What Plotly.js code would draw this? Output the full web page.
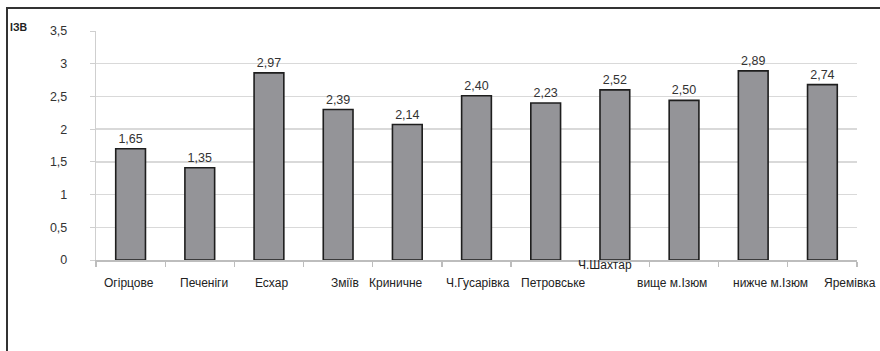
<!DOCTYPE html>
<html>
<head>
<meta charset="utf-8">
<script src="https://cdn.plot.ly/plotly-3.0.1.min.js"></script>
<style>
  html, body { margin: 0; padding: 0; background: #fff; }
  #wrap { position: relative; width: 880px; height: 351px; overflow: hidden; }
  #chart { position: absolute; left: 0; top: 0; width: 880px; height: 351px; }
  #frame { position: absolute; left: 6px; top: 7px; width: 900px; height: 400px;
           border-left: 2px solid #333; border-top: 2px solid #333; pointer-events: none; }
</style>
</head>
<body>
<div id="wrap">
  <div id="chart"></div>
  <div id="frame"></div>
</div>
<script>
// ---- data ----
const categories = ["Огірцове", "Печеніги", "Есхар", "Зміїв", "Криничне", "Ч.Гусарівка",
                    "Петровське", "Ч.Шахтар", "вище м.Ізюм", "нижче м.Ізюм", "Яремівка"];
const barValues = [1.70, 1.41, 2.86, 2.30, 2.07, 2.51, 2.40, 2.60, 2.44, 2.89, 2.68];
const valueLabels = ["1,65", "1,35", "2,97", "2,39", "2,14", "2,40", "2,23", "2,52", "2,50", "2,89", "2,74"];
const yTickVals = [0, 0.5, 1, 1.5, 2, 2.5, 3, 3.5];
const yTickText = ["0", "0,5", "1", "1,5", "2", "2,5", "3", "3,5"];
const yAxisLabel = "ІЗВ";

// ---- label placement (styling) ----
const labelDx = [-2, 4, 3, 7, -11, 1, 8, -10, -12, 17, 28];
const labelDy = [-23, -23, -23, -23, -23, -23, -23, -5, -23, -23, -23];

const font = "Liberation Sans, Arial, sans-serif";
const L = 96, R = 23, T = 31, B = 91, W = 880, H = 351;

const trace = {
  type: "bar",
  x: categories,
  y: barValues,
  text: valueLabels,
  textposition: "outside",
  cliponaxis: false,
  textfont: { family: font, size: 12.5, color: "#333" },
  marker: { color: "#949498", line: { color: "#1e1e1e", width: 1.6 } },
  hoverinfo: "none"
};

const annotations = categories.map((c, i) => ({
  x: c, xref: "x", y: 0, yref: "y",
  text: c, showarrow: false,
  xshift: labelDx[i], yshift: labelDy[i],
  yanchor: "middle", xanchor: "center",
  font: { family: font, size: 12, color: "#222" }
}));
annotations.push({
  xref: "paper", yref: "paper",
  x: (8 - L) / (W - L - R), xanchor: "left",
  y: 1 + (T - 27) / (H - T - B), yanchor: "middle",
  text: "<b>" + yAxisLabel + "</b>", showarrow: false,
  font: { family: font, size: 10.5, color: "#222" }
});

const layout = {
  width: W, height: H,
  margin: { l: L, r: R, t: T, b: B, pad: 0 },
  paper_bgcolor: "#fff", plot_bgcolor: "#fff",
  showlegend: false,
  bargap: 0.57,
  separators: ", ",
  font: { family: font, color: "#333" },
  xaxis: {
    type: "category",
    range: [-0.5, categories.length - 0.5],
    autorange: false,
    showticklabels: false,
    showgrid: false,
    showline: true, linecolor: "#bdbdbd", linewidth: 1.5,
    ticks: "outside", tickson: "boundaries", ticklen: 5, tickcolor: "#bdbdbd", tickwidth: 1.2,
    fixedrange: true
  },
  yaxis: {
    range: [0, 3.5],
    autorange: false,
    tickvals: yTickVals, ticktext: yTickText,
    showgrid: true, gridcolor: "#d9d9d9", gridwidth: 1.5,
    zeroline: false,
    showline: true, linecolor: "#cfcfcf", linewidth: 1.2,
    ticks: "outside", ticklen: 5, tickcolor: "#cfcfcf",
    ticklabelstandoff: 20,
    tickfont: { family: font, size: 12.5, color: "#333" },
    fixedrange: true
  },
  annotations: annotations
};

Plotly.newPlot("chart", [trace], layout, { staticPlot: true, displayModeBar: false });
</script>
</body>
</html>
